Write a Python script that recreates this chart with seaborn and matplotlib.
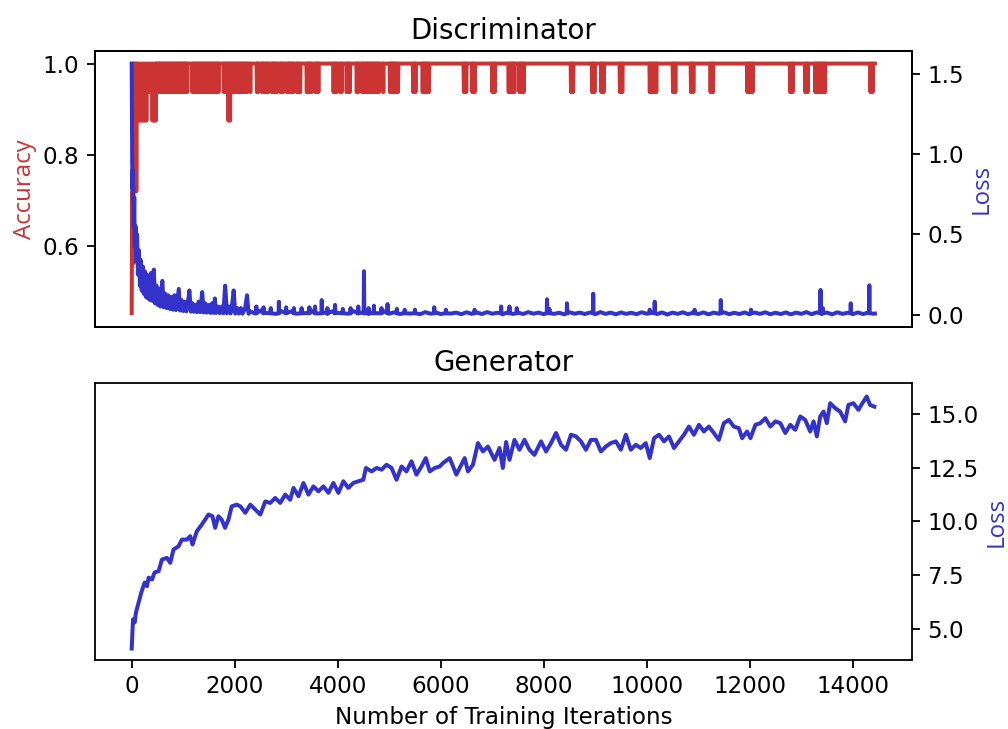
import numpy as np
import pandas as pd
import seaborn as sns
import matplotlib
matplotlib.use("Agg")
import matplotlib.pyplot as plt

RED = "#cc3333"
BLUE = "#3333cc"

# ---- discriminator accuracy ----
acc_iter_early = [0, 10, 20, 30, 40, 50, 60, 70, 80, 90, 100, 110, 120, 135, 150, 165,
                  180, 195, 210, 225, 240, 255, 270, 285, 300, 315, 330, 345, 360, 375,
                  390, 405, 420, 435, 450, 465]
acc_early = [0.453, 0.72, 0.56, 0.84, 1.0, 0.8125, 1.0, 0.84, 1.0, 0.72, 1.0, 0.875,
             1.0, 0.875, 1.0, 0.875, 1.0, 0.875, 1.0, 0.875, 1.0, 0.875, 1.0, 0.875,
             1.0, 0.9375, 1.0, 0.9375, 1.0, 0.9375, 1.0, 0.875, 1.0, 0.875, 1.0, 0.875]
# iterations where accuracy dropped to 0.9375
dip_iters = [480, 510, 540, 570, 600, 630, 660, 690, 720, 750, 780, 810, 840, 870, 900,
             930, 960, 990, 1020, 1040, 1078,
             1180, 1210, 1240, 1270, 1300, 1330, 1360, 1390, 1440, 1470, 1500, 1525,
             1565, 1595, 1625, 1655, 1685,
             1790, 1820, 1850, 1940, 1970, 2000, 2030, 2060, 2090, 2120, 2150, 2180,
             2210, 2235, 2303, 2432, 2460, 2530, 2560, 2595, 2625, 2655, 2725, 2755,
             2790, 2820, 2885, 2915, 2945, 3015, 3045, 3075, 3105, 3140, 3210, 3240,
             3270, 3400, 3430, 3460, 3495, 3565, 3595, 3625, 3920, 3950, 3980, 4050,
             4075, 4175, 4205, 4235, 4370, 4400,
             4470, 4500, 4530, 4560, 4590, 4620, 4650, 4680, 4710, 4740, 4770, 4800,
             4885, 5015, 5045, 5075, 5105, 5135, 5170, 5465, 5510,
             5650, 5680, 5710, 5740, 5770, 6450, 6495, 6615, 6660, 7005, 7050,
             7320, 7350, 7380, 7410, 7430, 7530, 7560, 7590, 7610, 8530, 8570,
             8940, 8985, 9120, 9165, 9480, 9525, 10060, 10090, 10120, 10150, 10185,
             10510, 10555, 10860, 10905, 11240, 11285, 11955, 11990, 12025, 12055,
             12785, 12830, 13080, 13125, 13275, 13305, 13335, 13365, 13395, 13430,
             13460, 14345, 14385]
# iterations where accuracy dropped to 0.875
deep_dip_iters = [1880, 1910]
last_iter = 14430

# ---- discriminator loss ----
loss_iter_early = [0, 5, 10, 15, 20, 25, 30, 40, 50, 60, 75, 90, 105, 120, 140, 160, 175,
                   195, 215, 235, 255, 275, 295, 315, 335, 355, 380, 405, 430, 455, 480,
                   505, 530, 555, 575, 595, 620, 650, 680, 710, 740, 770, 800, 830, 860,
                   890, 915, 940, 970, 1000, 1030, 1060, 1090, 1120, 1150, 1180, 1210,
                   1240, 1270, 1300, 1335, 1368, 1400, 1430, 1460, 1500, 1530, 1560,
                   1590, 1615, 1640, 1680, 1710, 1750, 1780, 1815, 1850, 1890, 1920,
                   1950, 1980, 2010, 2050, 2080, 2120, 2150, 2200, 2240, 2270]
loss_early = [1.565, 1.25, 0.95, 0.78, 0.90, 0.72, 0.80, 0.55, 0.73, 0.42, 0.55, 0.33,
              0.50, 0.25, 0.40, 0.18, 0.34, 0.15, 0.30, 0.13, 0.27, 0.11, 0.25, 0.10,
              0.22, 0.09, 0.26, 0.085, 0.28, 0.07, 0.18, 0.06, 0.16, 0.05, 0.14, 0.21,
              0.045, 0.13, 0.04, 0.12, 0.035, 0.11, 0.03, 0.12, 0.028, 0.10, 0.16,
              0.025, 0.09, 0.022, 0.08, 0.02, 0.07, 0.15, 0.018, 0.07, 0.017, 0.06,
              0.015, 0.08, 0.015, 0.14, 0.013, 0.07, 0.012, 0.06, 0.01, 0.07, 0.01,
              0.10, 0.01, 0.05, 0.008, 0.05, 0.008, 0.18, 0.008, 0.05, 0.007, 0.06,
              0.15, 0.006, 0.04, 0.006, 0.04, 0.005, 0.035, 0.12, 0.005]
# later baseline, one value per 100 iterations from 2300 to 14400
loss_late = [0.020, 0.006, 0.025, 0.010, 0.018, 0.004, 0.022, 0.008, 0.020, 0.005,
             0.016, 0.009, 0.024, 0.006, 0.015, 0.004, 0.020, 0.010, 0.017, 0.005,
             0.022, 0.007, 0.014, 0.004, 0.018, 0.008, 0.020, 0.005, 0.014, 0.003,
             0.016, 0.006, 0.012, 0.002, 0.015, 0.005, 0.013, 0.003, 0.016, 0.006,
             0.012, 0.002, 0.014, 0.004, 0.013, 0.003, 0.015, 0.005, 0.011, 0.001,
             0.014, 0.004, 0.012, 0.003, 0.015, 0.005, 0.012, 0.002, 0.013, 0.004,
             0.011, 0.001, 0.014, 0.005, 0.012, 0.003, 0.013, 0.002, 0.015, 0.004,
             0.012, 0.001, 0.013, 0.004, 0.011, 0.002, 0.014, 0.005, 0.012, 0.003,
             0.013, 0.000, 0.012, 0.004, 0.014, 0.002, 0.011, 0.003, 0.013, 0.001,
             0.012, 0.004, 0.014, 0.002, 0.011, 0.003, 0.013, 0.001, 0.012, 0.004,
             0.014, 0.002, 0.011, 0.003, 0.013, 0.001, 0.012, 0.004, 0.015, 0.002,
             0.013, 0.003, 0.012, 0.001, 0.014, 0.004, 0.011, 0.002, 0.013, 0.003,
             0.012, 0.005]
loss_spike_iters = [2420, 2560, 2700, 2858, 3000, 3150, 3300, 3450, 3560, 3690, 3800,
                    3948, 4100, 4250, 4400, 4510, 4600, 4703, 4850, 4968, 5150, 5300,
                    5500, 5874, 6100, 6658, 7174, 7335, 7477, 8064, 8110, 8451, 8961,
                    10058, 10155, 10929, 11438, 12025, 13374, 13420, 13961, 14322]
loss_spike_vals = [0.05, 0.045, 0.04, 0.08, 0.045, 0.04, 0.04, 0.045, 0.05, 0.09, 0.04,
                   0.06, 0.035, 0.04, 0.05, 0.27, 0.04, 0.055, 0.04, 0.065, 0.035, 0.03,
                   0.03, 0.045, 0.03, 0.03, 0.05, 0.05, 0.04, 0.095, 0.035, 0.07, 0.13,
                   0.03, 0.08, 0.03, 0.09, 0.03, 0.153, 0.04, 0.07, 0.182]
loss_floor = 0.008

# ---- generator loss ----
gen_iter = [0, 26, 58, 84, 135, 187, 252, 297, 329, 394, 445, 523, 587, 684, 748, 813,
            910, 974, 1071, 1136, 1181, 1265, 1361, 1426, 1491, 1568, 1620, 1684, 1748,
            1813, 1878, 1942, 2039, 2110, 2206, 2303, 2400, 2497, 2594, 2690, 2787,
            2884, 2981, 3077, 3142, 3239, 3335, 3432, 3529, 3626, 3723, 3820, 3916,
            4013, 4110, 4206, 4303, 4400, 4497, 4548, 4658, 4755, 4852, 4948, 5045,
            5142, 5239, 5335, 5432, 5529, 5626, 5710, 5787, 5884, 5981, 6045, 6174,
            6303, 6400, 6465, 6529, 6626, 6723, 6820, 6916, 7045, 7142, 7206, 7270,
            7335, 7432, 7529, 7626, 7723, 7819, 7948, 8045, 8142, 8239, 8335, 8432,
            8529, 8626, 8723, 8819, 8916, 9013, 9110, 9206, 9303, 9400, 9497, 9594,
            9690, 9787, 9884, 9981, 10058, 10142, 10239, 10335, 10432, 10529, 10626,
            10723, 10819, 10916, 11013, 11110, 11206, 11303, 11400, 11497, 11594,
            11690, 11787, 11852, 11948, 12013, 12110, 12206, 12303, 12400, 12497,
            12594, 12690, 12787, 12884, 12981, 13077, 13174, 13239, 13303, 13368,
            13432, 13497, 13561, 13658, 13755, 13852, 13916, 14013, 14110, 14187,
            14271, 14335, 14419]
gen_loss = [4.07, 5.43, 5.29, 5.76, 6.22, 6.69, 7.15, 6.98, 7.38, 7.29, 7.62, 7.68, 8.22,
            8.30, 8.07, 8.69, 8.84, 9.15, 9.15, 9.31, 8.92, 9.54, 9.85, 10.08, 10.32,
            10.24, 9.70, 10.24, 10.08, 9.70, 10.08, 10.70, 10.78, 10.70, 10.40, 10.78,
            10.55, 10.32, 10.93, 10.86, 11.09, 10.86, 11.25, 11.01, 11.56, 11.17,
            11.79, 11.25, 11.63, 11.40, 11.63, 11.33, 11.79, 11.33, 11.87, 11.56,
            11.79, 11.87, 11.94, 12.49, 12.33, 12.49, 12.41, 12.64, 12.49, 11.94,
            12.56, 12.33, 12.80, 12.18, 12.56, 12.95, 12.33, 12.49, 12.56, 12.72,
            12.95, 12.18, 12.64, 12.95, 12.33, 12.64, 13.65, 13.26, 13.49, 12.87,
            13.42, 12.49, 13.70, 12.87, 13.80, 13.34, 13.80, 13.34, 13.10, 13.73,
            13.26, 13.65, 14.12, 13.57, 13.34, 14.04, 13.96, 13.73, 13.34, 13.80,
            13.80, 13.26, 13.49, 13.65, 13.73, 13.34, 14.04, 13.34, 13.57, 13.42,
            13.65, 12.95, 13.88, 14.04, 13.73, 13.96, 13.42, 13.73, 14.04, 14.42,
            14.04, 14.50, 14.19, 14.42, 14.12, 13.80, 14.58, 14.73, 14.42, 14.35,
            13.88, 14.19, 13.88, 14.50, 14.58, 14.81, 14.42, 14.66, 14.58, 14.12,
            14.50, 14.27, 14.89, 14.73, 14.19, 14.66, 13.96, 14.89, 15.12, 14.58,
            15.51, 15.28, 15.12, 14.66, 15.43, 15.51, 15.20, 15.51, 15.82, 15.43,
            15.35]

x_ticks = [0, 2000, 4000, 6000, 8000, 10000, 12000, 14000]


def with_spikes(iters, vals, centers, peaks, base, half):
    rows = list(zip(iters, vals))
    for c, p in zip(centers, peaks):
        rows += [(c - half, base), (c, p), (c + half, base)]
    return pd.DataFrame(rows, columns=["iteration", "value"]).sort_values("iteration")


acc_df = with_spikes(acc_iter_early + [485, last_iter], acc_early + [1.0, 1.0],
                     dip_iters + deep_dip_iters,
                     [0.9375] * len(dip_iters) + [0.875] * len(deep_dip_iters), 1.0, 8)
late_iters = list(range(2300, 14401, 100))
loss_df = with_spikes(loss_iter_early + late_iters + [last_iter],
                      loss_early + loss_late + [0.006],
                      loss_spike_iters, loss_spike_vals, loss_floor, 6)
gen_df = pd.DataFrame({"iteration": gen_iter, "value": gen_loss})

plt.rcParams.update({
    "xtick.labelsize": 11.5, "ytick.labelsize": 11.5,
    "xtick.major.size": 4, "ytick.major.size": 4,
    "xtick.major.width": 0.9, "ytick.major.width": 0.9,
    "axes.linewidth": 0.9,
})

fig = plt.figure(figsize=(7, 5.0625), dpi=144)
ax_acc = fig.add_axes([0.0938, 0.5514, 0.8110, 0.3786])
ax_gen = fig.add_axes([0.0938, 0.0947, 0.8110, 0.3796], sharex=ax_acc)
ax_loss = ax_acc.twinx()

label_font = dict(family=["Open Sans", "DejaVu Sans"], fontsize=12, labelpad=3)
LW = 2.0

sns.lineplot(data=acc_df, x="iteration", y="value", ax=ax_acc, color=RED,
             lw=LW, estimator=None, sort=False)
sns.lineplot(data=loss_df, x="iteration", y="value", ax=ax_loss, color=BLUE,
             lw=LW, estimator=None, sort=False)
sns.lineplot(data=gen_df, x="iteration", y="value", ax=ax_gen, color=BLUE,
             lw=LW, estimator=None, sort=False)

ax_acc.set_title("Discriminator", fontsize=13.8)
ax_acc.set_ylabel("Accuracy", color=RED, **label_font)
ax_acc.set_xlabel("")
ax_acc.set_ylim(0.4225, 1.0275)
ax_acc.set_yticks([0.6, 0.8, 1.0])
ax_acc.tick_params(axis="x", bottom=False, labelbottom=False)

ax_loss.set_ylabel("Loss", color=BLUE, **label_font)
ax_loss.set_xlabel("")
ax_loss.set_ylim(-0.078, 1.643)
ax_loss.set_yticks([0.0, 0.5, 1.0, 1.5])

ax_gen.set_title("Generator", fontsize=13.8)
ax_gen.yaxis.tick_right()
ax_gen.yaxis.set_label_position("right")
ax_gen.set_ylabel("Loss", color=BLUE, **label_font)
ax_gen.set_ylim(3.54, 16.44)
ax_gen.set_yticks([5.0, 7.5, 10.0, 12.5, 15.0])
ax_gen.set_xticks(x_ticks)
ax_gen.set_xlim(-721, 15151)
ax_gen.set_xlabel("Number of Training Iterations", fontsize=11.5)

fig.savefig("out.png", dpi=144)
